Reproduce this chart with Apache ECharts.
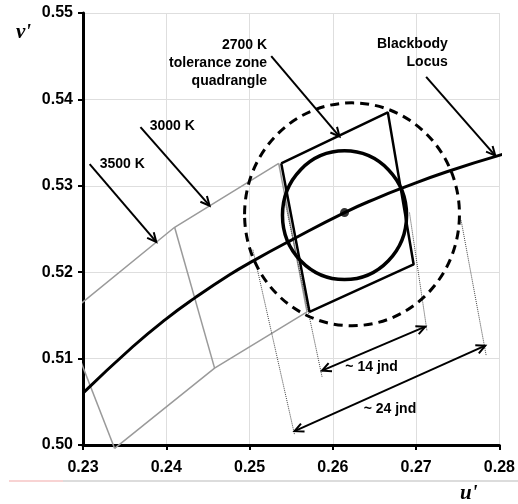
<!DOCTYPE html>
<html><head><meta charset="utf-8">
<script src="https://cdn.jsdelivr.net/npm/echarts@6/dist/echarts.min.js"></script>
<style>html,body{margin:0;padding:0;background:#fff}#c{width:518px;height:504px}</style>
</head><body><div id="c"></div>
<script>
// ---- data (u', v') ----
const xRange = [0.23, 0.28];
const yRange = [0.50, 0.55];
const tickStep = 0.01;

const locus = [[0.2300,0.5060],[0.2360,0.5114],[0.2400,0.5146],[0.2434,0.5170],[0.2476,0.5197],[0.2506,0.5214],[0.2548,0.5236],[0.2614,0.5269],[0.2656,0.5287],[0.2682,0.5297],[0.2736,0.5316],[0.2806,0.5337]];

const grayTop = [[0.2298,0.5164],[0.2410,0.5252],[0.2535,0.5326]];
const grayBottom = [[0.2338,0.4996],[0.2458,0.5089],[0.2569,0.5154]];
const grayLeft3500 = [[0.2296,0.5100],[0.2338,0.4996]];
const grayDivider = [[0.2410,0.5252],[0.2458,0.5089]];
const grayRight3000 = [[0.2535,0.5326],[0.2569,0.5154]];

const quad2700 = [[0.2538,0.5326],[0.2666,0.5385],[0.2697,0.5209],[0.2572,0.5154],[0.2538,0.5326]];

const centerPoint = [[0.2614,0.5269]];
const circleSolid = [[0.2614,0.5266,0.00745]];
const circleDashed = [[0.2623,0.5267,0.0129]];

const dotted14L = [[0.2542,0.5284],[0.2587,0.5079]];
const dotted14R = [[0.2692,0.5269],[0.2713,0.5132]];
const dotted24L = [[0.2504,0.5226],[0.2554,0.5012]];
const dotted24R = [[0.2754,0.5260],[0.2784,0.5104]];

const arrowsSingle = [
  [0.2308,0.5325,0.2388,0.5235],
  [0.2369,0.5368,0.2452,0.5277],
  [0.2526,0.5450,0.2608,0.5357],
  [0.2712,0.5426,0.2795,0.5335]
];
const arrowsDouble = [
  [0.2587,0.5086,0.2711,0.5137],
  [0.2554,0.5016,0.2783,0.5115]
];

const labelText = ['3500 K','3000 K','2700 K\ntolerance zone\nquadrangle','Blackbody\nLocus','~ 14 jnd','~ 24 jnd'];
const labelPos = [[0.2320,0.5325],[0.2380,0.5369],[0.2521,0.5442],[0.2738,0.5453],[0.2615,0.5090],[0.2637,0.5042]];

// ---- styles ----
const labelAlign = ['left','left','right','right','left','left'];
const FONT = '"Liberation Sans", Arial, sans-serif';

function polyline(data, color, width, type) {
  return {type:'line', data:data, showSymbol:false, symbol:'none', clip:false, silent:true,
    lineStyle:{color:color, width:width, type:type||'solid'}, z:3};
}

function arrowHead(tip, from, len, ang) {
  const a = Math.atan2(tip[1]-from[1], tip[0]-from[0]);
  return [
    [tip[0]-len*Math.cos(a-ang), tip[1]-len*Math.sin(a-ang)],
    tip,
    [tip[0]-len*Math.cos(a+ang), tip[1]-len*Math.sin(a+ang)]
  ];
}

function arrowRender(dbl) {
  return function(params, api) {
    const p0 = api.coord([api.value(0), api.value(1)]);
    const p1 = api.coord([api.value(2), api.value(3)]);
    const st = {stroke:'#000', lineWidth:2, fill:null, lineJoin:'miter', lineCap:'butt'};
    const ch = [
      {type:'line', shape:{x1:p0[0],y1:p0[1],x2:p1[0],y2:p1[1]}, style:st},
      {type:'polyline', shape:{points:arrowHead(p1,p0,10,0.45)}, style:st}
    ];
    if (dbl) ch.push({type:'polyline', shape:{points:arrowHead(p0,p1,10,0.45)}, style:st});
    return {type:'group', children:ch};
  };
}

function circleRender(width, dash) {
  return function(params, api) {
    const c = api.coord([api.value(0), api.value(1)]);
    const r = api.value(2);
    const s = api.size([r, r]);
    return {type:'ellipse', shape:{cx:c[0], cy:c[1], rx:s[0], ry:s[1]},
      style:{stroke:'#000', fill:null, lineWidth:width, lineDash:dash}};
  };
}

const chart = echarts.init(document.getElementById('c'), null, {renderer:'canvas'});

const axisCommon = {
  type:'value', interval:tickStep,
  axisLine:{show:true, onZero:false, lineStyle:{color:'#000', width:3}},
  axisTick:{show:true, length:5, inside:false, lineStyle:{color:'#000', width:2}},
  splitLine:{show:true, lineStyle:{color:'#dedede', width:1}},
  axisLabel:{color:'#000', fontFamily:FONT, fontWeight:'bold', fontSize:16,
    formatter:function(v){return v.toFixed(2);}}
};

chart.setOption({
  animation:false,
  backgroundColor:'#fff',
  grid:{left:83, right:17, top:13, bottom:59, containLabel:false},
  xAxis:Object.assign({}, axisCommon, {min:xRange[0], max:xRange[1],
    axisLabel:Object.assign({}, axisCommon.axisLabel, {margin:15})}),
  yAxis:Object.assign({}, axisCommon, {min:yRange[0], max:yRange[1],
    axisLabel:Object.assign({}, axisCommon.axisLabel, {margin:10})}),
  graphic:[
    {type:'text', left:16, top:22, style:{text:"v'", font:'italic bold 21px "Liberation Serif", "Times New Roman", serif', fill:'#000'}},
    {type:'text', left:460, top:483, style:{text:"u'", font:'italic bold 21px "Liberation Serif", "Times New Roman", serif', fill:'#000'}},
    {type:'line', shape:{x1:63,y1:481,x2:518,y2:481}, style:{stroke:'#d0d0d0', lineWidth:1.5}},
    {type:'line', shape:{x1:9,y1:481,x2:63,y2:481}, style:{stroke:'#f6c4c4', lineWidth:1.5}}
  ],
  series:[
    polyline(grayTop, '#9a9a9a', 1.5),
    polyline(grayBottom, '#9a9a9a', 1.5),
    polyline(grayLeft3500, '#9a9a9a', 1.5),
    polyline(grayDivider, '#9a9a9a', 1.5),
    polyline(grayRight3000, '#9a9a9a', 1.5),
    polyline(dotted14L, '#444', 1, 'dotted'),
    polyline(dotted14R, '#444', 1, 'dotted'),
    polyline(dotted24L, '#444', 1, 'dotted'),
    polyline(dotted24R, '#444', 1, 'dotted'),
    polyline(quad2700, '#000', 2.5),
    Object.assign(polyline(locus, '#000', 3), {smooth:true}),
    {type:'custom', data:circleDashed, renderItem:circleRender(3,[9,6]), encode:{x:0,y:1}, silent:true, z:4},
    {type:'custom', data:circleSolid, renderItem:circleRender(3.5,null), encode:{x:0,y:1}, silent:true, z:4},
    {type:'scatter', data:centerPoint, symbol:'circle', symbolSize:9, itemStyle:{color:'#000'}, silent:true, z:5},
    {type:'custom', data:arrowsSingle, renderItem:arrowRender(false), encode:{x:[0,2], y:[1,3]}, silent:true, z:5},
    {type:'custom', data:arrowsDouble, renderItem:arrowRender(true), encode:{x:[0,2], y:[1,3]}, silent:true, z:5},
    {type:'custom', data:labelPos.map(function(p,i){return [p[0],p[1],i];}), encode:{x:0,y:1}, silent:true, z:6,
      renderItem:function(params, api){
        const i = api.value(2);
        const p = api.coord([api.value(0), api.value(1)]);
        return {type:'text', x:p[0], y:p[1], style:{text:labelText[i], fill:'#000',
          font:'bold 14px ' + FONT, align:labelAlign[i], verticalAlign:'middle', lineHeight:18}};
      }}
  ]
});
</script>
</body></html>
